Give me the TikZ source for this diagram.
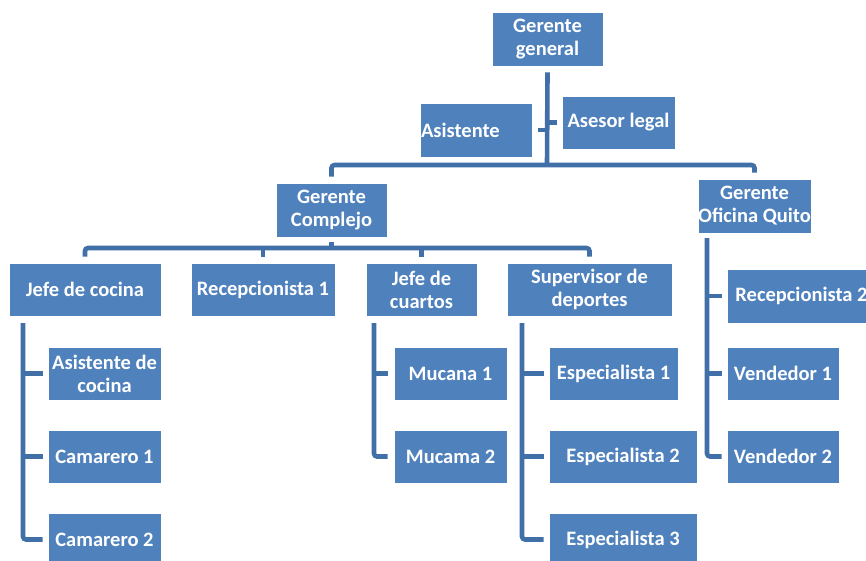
\documentclass[tikz,border=0pt]{standalone}
\usepackage{fontspec}
\setmainfont{Carlito}
\definecolor{boxblue}{HTML}{4F81BD}
\definecolor{lineblue}{HTML}{4170A8}
\tikzset{
  box/.style={fill=boxblue, draw=white, line width=0.6pt, text=white,
    font=\bfseries\fontsize{20.5}{23}\selectfont, align=center, inner sep=0pt},
  conn/.style={draw=lineblue, line width=4.6pt, rounded corners=3pt, line cap=butt}
}
\begin{document}
\begin{tikzpicture}[x=1pt,y=-1pt]
\clip (0,0) rectangle (866,561);
\fill[white] (0,0) rectangle (866,561);
% nodes
\node[box, minimum width=111, minimum height=54] (gg) at (547.5,39) {Gerente\\general};
\node[box, minimum width=112, minimum height=54, text width=110, align=left] (as) at (476,130) {Asistente};
\node[box, minimum width=113, minimum height=53] (al) at (618.5,122.5) {Asesor legal};
\node[box, minimum width=111, minimum height=54] (cc) at (331.5,210) {Gerente\\Complejo};
\node[box, minimum width=113, minimum height=54] (oq) at (754.5,206) {Gerente\\Oficina Quito};
\node[box, minimum width=152, minimum height=53] (jc) at (85,289.5) {Jefe de cocina};
\node[box, minimum width=144, minimum height=53] (r1) at (263,289.5) {Recepcionista 1};
\node[box, minimum width=111, minimum height=53] (jq) at (421.5,289.5) {Jefe de\\cuartos};
\node[box, minimum width=165, minimum height=53] (sd) at (589.5,289.5) {Supervisor de\\deportes};
\node[box, minimum width=113, minimum height=53] (ac) at (104.5,373.5) {Asistente de\\cocina};
\node[box, minimum width=113, minimum height=53] (c1) at (104.5,456.5) {Camarero 1};
\node[box, minimum width=113, minimum height=53] (c2) at (104.5,539.5) {Camarero 2};
\node[box, minimum width=113, minimum height=53] (m1) at (450.5,373.5) {Mucana 1};
\node[box, minimum width=113, minimum height=53] (m2) at (450.5,456.5) {Mucama 2};
\node[box, minimum width=129, minimum height=53] (e1) at (613.5,373.5) {Especialista 1};
\node[box, minimum width=148, minimum height=53] (e2) at (623,456.5) {Especialista 2};
\node[box, minimum width=148, minimum height=53] (e3) at (623,539.5) {Especialista 3};
\node[box, minimum width=149, minimum height=54] (r2) at (801.5,296) {Recepcionista 2};
\node[box, minimum width=112, minimum height=53] (v1) at (783,373.5) {Vendedor 1};
\node[box, minimum width=112, minimum height=53] (v2) at (783,456.5) {Vendedor 2};
% top level
\coordinate (b1) at (547,165);
\draw[conn] ([yshift=-6pt]gg.south) -- (b1);
\draw[conn] ([yshift=6pt]cc.north) |- (b1) -| ([yshift=6pt]oq.north);
\draw[conn] ([xshift=6pt]as.east) -- (as.east -| b1);
\draw[conn] (al.west -| b1) -- ([xshift=-5pt]al.west);
% complejo level
\coordinate (b2) at (331.5,248);
\draw[conn] ([yshift=-5pt]cc.south) -- (b2);
\draw[conn] ([yshift=6pt]jc.north) |- (b2) -| ([yshift=6pt]sd.north);
\draw[conn] ([yshift=6pt]r1.north) -- (r1.north |- b2);
\draw[conn] ([yshift=6pt]jq.north) -- (jq.north |- b2);
% cocina
\coordinate (vc) at (23,323);
\draw[conn] (vc) |- ([xshift=-5pt]c2.west);
\draw[conn] (vc |- ac.west) -- ([xshift=-5pt]ac.west);
\draw[conn] (vc |- c1.west) -- ([xshift=-5pt]c1.west);
% cuartos
\coordinate (vq) at (374,323);
\draw[conn] (vq) |- ([xshift=-6pt]m2.west);
\draw[conn] (vq |- m1.west) -- ([xshift=-6pt]m1.west);
% deportes
\coordinate (vd) at (522,323);
\draw[conn] (vd) |- ([xshift=-5pt]e3.west);
\draw[conn] (vd |- e1.west) -- ([xshift=-5pt]e1.west);
\draw[conn] (vd |- e2.west) -- ([xshift=-5pt]e2.west);
% quito
\coordinate (vo) at (707,238);
\draw[conn] (vo) |- ([xshift=-5pt]v2.west);
\draw[conn] (vo |- r2.west) -- ([xshift=-5pt]r2.west);
\draw[conn] (vo |- v1.west) -- ([xshift=-5pt]v1.west);
\end{tikzpicture}
\end{document}
